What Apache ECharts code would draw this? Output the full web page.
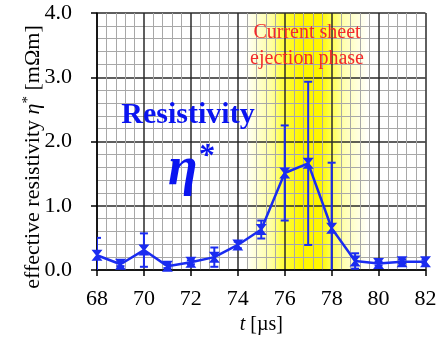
<!DOCTYPE html>
<html>
<head>
<meta charset="utf-8">
<script src="https://cdn.jsdelivr.net/npm/echarts@6/dist/echarts.min.js"></script>
<style>
  html, body { margin: 0; padding: 0; background: #fff; }
  #chart { width: 442px; height: 345px; }
</style>
</head>
<body>
<div id="chart"></div>
<script>
// Time of measurement [µs]
var times = [68, 69, 70, 71, 72, 73, 74, 75, 76, 77, 78, 79, 80, 81, 82];
// Effective resistivity eta* [mOhm m]
var resistivity = [0.23, 0.09, 0.31, 0.06, 0.12, 0.20, 0.39, 0.63, 1.51, 1.66, 0.65, 0.14, 0.10, 0.13, 0.13];
// Half-width of the error bars [mOhm m]
var errors = [0.27, 0.03, 0.26, 0.03, 0.03, 0.15, 0.05, 0.14, 0.74, 1.27, 1.02, 0.12, 0.03, 0.03, 0.03];
// Extent of the current sheet ejection phase [µs]
var ejectionPhase = [74.3, 79.6];
// Axis ticks
var xTicks = [68, 82, 2];
var yTicks = [0, 4, 1];

var SERIF = "'Liberation Serif', 'Times New Roman', 'DejaVu Serif', serif";
var BLUE = '#1a2cf0';

var lineData = times.map(function (t, i) { return [t, resistivity[i]]; });
var errData = times.map(function (t, i) {
  return [t, resistivity[i] - errors[i], resistivity[i] + errors[i]];
});

var chart = echarts.init(document.getElementById('chart'), null, { renderer: 'canvas' });

var axisCommon = {
  z: 1,
  axisLine: { show: true, onZero: false, lineStyle: { color: '#000', width: 1.5 } },
  axisTick: { show: true, inside: false, length: 6, lineStyle: { color: '#000', width: 1.5 } },
  splitLine: { show: true, lineStyle: { color: '#2a2a2a', width: 1.5 } },
  minorTick: { show: false, splitNumber: 5 },
  minorSplitLine: { show: true, lineStyle: { color: '#a8a8a8', width: 1 } }
};

chart.setOption({
  animation: false,
  grid: { left: 97, top: 13, right: 16.5, bottom: 75, containLabel: false },
  xAxis: Object.assign({
    type: 'value',
    min: xTicks[0], max: xTicks[1], interval: xTicks[2],
    axisLabel: { color: '#000', fontFamily: SERIF, fontSize: 22, margin: 18 },
    name: '{i|t} [µs]',
    nameLocation: 'middle',
    nameGap: 45,
    nameTextStyle: {
      color: '#000', fontFamily: SERIF, fontSize: 20,
      rich: { i: { fontStyle: 'italic', fontFamily: SERIF, fontSize: 20, color: '#000' } }
    }
  }, axisCommon),
  yAxis: Object.assign({
    type: 'value',
    min: yTicks[0], max: yTicks[1], interval: yTicks[2],
    axisLabel: {
      color: '#000', fontFamily: SERIF, fontSize: 22, margin: 25,
      formatter: function (v) { return v.toFixed(1); }
    }
  }, axisCommon),
  graphic: [
    {
      type: 'text',
      x: 33, y: 157,
      rotation: Math.PI / 2,
      style: {
        text: 'effective resistivity {i|η}{s|*} [mΩm]',
        fill: '#000',
        fontSize: 22,
        fontFamily: SERIF,
        align: 'center',
        verticalAlign: 'middle',
        rich: {
          i: { fontStyle: 'italic', fontSize: 22, fontFamily: SERIF, fill: '#000' },
          s: { fontSize: 15, fontFamily: SERIF, fill: '#000', padding: [0, 0, 10, 0] }
        }
      },
      z: 100
    },
    {
      type: 'text',
      x: 188, y: 115,
      style: {
        text: 'Resistivity',
        fill: '#0a14f0',
        fontSize: 30,
        fontWeight: 'bold',
        fontFamily: SERIF,
        align: 'center',
        verticalAlign: 'middle'
      },
      z: 100
    },
    {
      type: 'text',
      x: 168, y: 170,
      style: {
        text: '{e|η}{s|*}',
        align: 'left',
        verticalAlign: 'middle',
        rich: {
          e: { fontStyle: 'italic', fontWeight: 'bold', fontSize: 54, fontFamily: SERIF, fill: '#0a14f0' },
          s: { fontStyle: 'italic', fontWeight: 'bold', fontSize: 32, fontFamily: SERIF, fill: '#0a14f0', padding: [0, 0, 26, 0] }
        }
      },
      z: 100
    },
    {
      type: 'text',
      x: 307, y: 46,
      style: {
        text: 'Current sheet\nejection phase',
        fill: '#f42a2a',
        fontSize: 20,
        fontFamily: SERIF,
        lineHeight: 26,
        align: 'center',
        verticalAlign: 'middle'
      },
      z: 100
    }
  ],
  series: [
    {
      // highlighted time window, drawn beneath the grid lines
      type: 'line',
      data: [],
      z: -1,
      silent: true,
      markArea: {
        silent: true,
        z: -1,
        itemStyle: {
          color: new echarts.graphic.LinearGradient(0, 0, 1, 0, [
            { offset: 0, color: 'rgba(255,255,0,0)' },
            { offset: 0.1, color: 'rgba(255,255,0,0.18)' },
            { offset: 0.22, color: 'rgba(255,255,0,0.38)' },
            { offset: 0.29, color: 'rgba(255,255,0,0.7)' },
            { offset: 0.45, color: 'rgba(255,245,0,1)' },
            { offset: 0.61, color: 'rgba(255,245,0,1)' },
            { offset: 0.69, color: 'rgba(255,255,0,0.7)' },
            { offset: 0.8, color: 'rgba(255,255,0,0.3)' },
            { offset: 1, color: 'rgba(255,255,0,0)' }
          ])
        },
        data: [[{ xAxis: ejectionPhase[0] }, { xAxis: ejectionPhase[1] }]]
      }
    },
    {
      type: 'custom',
      name: 'error',
      clip: true,
      z: 3,
      renderItem: function (params, api) {
        var x = api.value(0);
        var lo = api.coord([x, api.value(1)]);
        var hi = api.coord([x, api.value(2)]);
        var cap = 4;
        var style = { stroke: BLUE, lineWidth: 2 };
        return {
          type: 'group',
          children: [
            { type: 'line', shape: { x1: lo[0], y1: lo[1], x2: hi[0], y2: hi[1] }, style: style },
            { type: 'line', shape: { x1: hi[0] - cap, y1: hi[1], x2: hi[0] + cap, y2: hi[1] }, style: style },
            { type: 'line', shape: { x1: lo[0] - cap, y1: lo[1], x2: lo[0] + cap, y2: lo[1] }, style: style }
          ]
        };
      },
      encode: { x: 0, y: [1, 2] },
      data: errData
    },
    {
      type: 'line',
      name: 'resistivity',
      data: lineData,
      z: 4,
      lineStyle: { color: BLUE, width: 2.5 },
      itemStyle: { color: BLUE },
      symbol: 'path://M0,0 L10,0 L6,5 L10,10 L0,10 L4,5 Z',
      symbolSize: [11, 11],
      showSymbol: true
    }
  ]
});
</script>
</body>
</html>
